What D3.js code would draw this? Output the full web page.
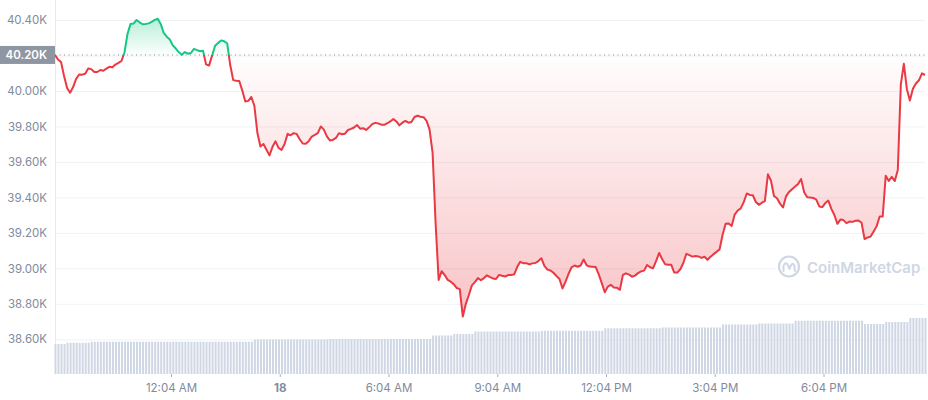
<!DOCTYPE html>
<html><head><meta charset="utf-8">
<script src="https://cdn.jsdelivr.net/npm/d3@7"></script>
<style>body{margin:0;background:#fff;} svg{display:block;font-family:Inter,"Noto Sans",sans-serif;}</style>
</head><body><svg id="chart" width="928" height="400"></svg>
<script>
// ---- data (5-minute BTC price, 24h) ----
const prices = [
40203,40177,40163,40084,40017,39990,40022,40068,40093,40092,40097,40127,40123,40107,40107,40118,40114,40126,40136,40134,
40149,40158,40169,40217,40321,40378,40380,40400,40387,40376,40378,40381,40389,40401,40407,40378,40327,40306,40290,40257,
40239,40218,40204,40219,40210,40214,40237,40230,40224,40227,40150,40143,40199,40255,40271,40285,40280,40269,40146,40061,
40058,40056,40002,39941,39944,39966,39916,39763,39687,39701,39669,39637,39685,39716,39679,39668,39701,39758,39750,39762,
39758,39728,39704,39702,39717,39743,39752,39762,39800,39782,39744,39721,39724,39735,39762,39756,39759,39780,39786,39794,
39808,39787,39790,39780,39795,39813,39820,39817,39810,39809,39818,39828,39842,39828,39806,39821,39831,39821,39825,39853,
39860,39855,39852,39831,39782,39651,39251,38935,38984,38962,38935,38925,38911,38889,38883,38728,38800,38850,38904,38922,
38945,38933,38945,38961,38951,38943,38940,38963,38958,38954,38962,38963,38966,39007,39037,39029,39029,39022,39028,39030,
39041,39057,39014,38993,38988,38975,38957,38940,38886,38925,38969,39006,39016,39009,39016,39050,39017,39010,39009,39007,
38966,38917,38865,38897,38907,38892,38891,38879,38963,38972,38965,38953,38959,38973,38983,38987,39019,39006,39001,39042,
39087,39051,39023,39020,39020,38976,38976,38995,39030,39082,39074,39066,39069,39067,39059,39065,39048,39065,39080,39093,
39107,39189,39252,39253,39239,39303,39326,39338,39373,39422,39414,39412,39374,39358,39370,39379,39530,39495,39408,39395,
39365,39343,39406,39431,39446,39461,39476,39503,39429,39401,39399,39397,39387,39349,39345,39368,39382,39335,39301,39251,
39275,39272,39255,39264,39262,39268,39270,39257,39165,39174,39179,39208,39238,39292,39292,39522,39493,39516,39492,39555,
40037,40153,40010,39946,40012,40042,40060,40099,40090
];
// 24h volume (billions USD), one bar per price point
const volumes = [
24.0,24.0,24.0,24.0,25.0,25.0,25.0,25.0,25.0,25.0,25.0,25.0,
25.8,25.8,25.8,25.8,25.8,25.8,25.8,25.8,25.8,25.8,25.8,25.8,25.8,25.8,25.8,25.8,25.8,25.8,
25.8,25.8,25.8,25.8,25.8,25.8,25.8,25.8,25.8,25.8,25.8,25.8,25.8,25.8,25.8,25.8,25.8,25.8,
25.8,25.8,25.8,25.8,25.8,25.8,25.8,25.8,25.8,25.8,25.8,25.8,25.8,25.8,25.8,25.8,25.8,25.8,
27.6,27.6,27.6,27.6,27.6,27.6,27.6,27.6,27.6,27.6,27.6,27.6,27.6,27.6,27.6,27.6,27.6,27.6,27.6,27.6,27.6,27.6,27.6,27.6,27.6,
28.0,28.0,28.0,28.0,28.0,28.0,28.0,28.0,28.0,28.0,28.0,28.0,28.0,28.0,28.0,28.0,28.0,
28.0,28.0,28.0,28.0,28.0,28.0,28.0,28.0,28.0,28.0,28.0,28.0,28.0,28.0,28.0,28.0,28.0,
30.8,30.8,30.8,30.8,30.8,30.8,30.8,32.0,32.0,32.0,32.0,32.0,32.0,32.0,
34.0,34.0,34.0,34.0,34.0,34.0,34.0,34.0,34.0,34.0,34.0,34.0,34.0,34.0,34.0,34.0,34.0,34.0,34.0,34.0,34.0,34.0,
34.6,34.6,34.6,34.6,34.6,34.6,34.6,34.6,34.6,34.6,34.6,34.6,34.6,34.6,34.6,34.6,34.6,34.6,34.6,34.6,34.6,
36.6,36.6,36.6,36.6,36.6,36.6,36.6,36.6,36.6,36.6,36.6,36.6,36.6,36.6,36.6,36.6,36.6,36.6,36.6,
37.2,37.2,37.2,37.2,37.2,37.2,37.2,37.2,37.2,37.2,37.2,37.2,37.2,37.2,37.2,37.2,37.2,37.2,37.2,37.2,
39.6,39.6,39.6,39.6,39.6,39.6,39.6,39.6,39.6,39.6,39.6,39.6,
40.4,40.4,40.4,40.4,40.4,40.4,40.4,40.4,40.4,40.4,40.4,40.4,
42.6,42.6,42.6,42.6,42.6,42.6,42.6,42.6,42.6,42.6,42.6,42.6,42.6,42.6,42.6,42.6,42.6,42.6,42.6,42.6,42.6,42.6,42.6,
40.0,40.0,40.0,40.0,40.0,40.0,40.0,
41.6,41.6,41.6,41.6,41.6,41.6,41.6,41.6,
44.8,44.8,44.8,44.8,44.8,44.8
];
const startTime = Date.UTC(2022, 2, 17, 20, 52);
const stepMinutes = 5;
const yTickValues = [38600, 38800, 39000, 39200, 39400, 39600, 39800, 40000, 40200, 40400];
const xTickTimes = ["2022-03-18T00:04:00Z","2022-03-18T03:04:00Z","2022-03-18T06:04:00Z","2022-03-18T09:04:00Z","2022-03-18T12:04:00Z","2022-03-18T15:04:00Z","2022-03-18T18:04:00Z"];
const xTickLabels = ["12:04 AM","18","6:04 AM","9:04 AM","12:04 PM","3:04 PM","6:04 PM"];
const watermarkText = "CoinMarketCap";

// ---- build ----
const data = prices.map((p, i) => ({t: new Date(startTime + i * stepMinutes * 60000), price: p, vol: volumes[i]}));
const baseline = prices[0];

const L = 55, R = 925, VB = 374;
const svg = d3.select("#chart");
const x = d3.scaleUtc().domain([data[0].t, data[data.length - 1].t]).range([L, R]);
const y = d3.scaleLinear().domain([38600, 40400]).range([339.3, 20]);
const yv = d3.scaleLinear().domain([0, 48]).range([VB, VB - 60]);
const yb = y(baseline);

const defs = svg.append("defs");
const gR = defs.append("linearGradient").attr("id", "gRed").attr("gradientUnits", "userSpaceOnUse")
  .attr("x1", 0).attr("x2", 0).attr("y1", yb).attr("y2", y(d3.min(prices)));
gR.append("stop").attr("offset", 0).attr("stop-color", "#ea3943").attr("stop-opacity", 0.01);
gR.append("stop").attr("offset", 1).attr("stop-color", "#ea3943").attr("stop-opacity", 0.3);
const gG = defs.append("linearGradient").attr("id", "gGreen").attr("gradientUnits", "userSpaceOnUse")
  .attr("x1", 0).attr("x2", 0).attr("y1", yb).attr("y2", y(d3.max(prices)));
gG.append("stop").attr("offset", 0).attr("stop-color", "#16c784").attr("stop-opacity", 0.01);
gG.append("stop").attr("offset", 1).attr("stop-color", "#16c784").attr("stop-opacity", 0.3);
defs.append("clipPath").attr("id", "cAbove").append("rect").attr("x", 0).attr("y", 0).attr("width", 928).attr("height", yb);
defs.append("clipPath").attr("id", "cBelow").append("rect").attr("x", 0).attr("y", yb).attr("width", 928).attr("height", 400 - yb);

// gridlines
const grid = svg.append("g").attr("transform", `translate(${L},0)`)
  .call(d3.axisLeft(y).tickValues(yTickValues).tickSize(-(R - L)).tickFormat(""));
grid.select(".domain").remove();
grid.selectAll("line").attr("stroke", "#eff2f5");

// left vertical line
svg.append("line").attr("x1", L + 0.5).attr("x2", L + 0.5).attr("y1", 0).attr("y2", VB).attr("stroke", "#e6e9ee");

// volume bars
svg.append("g").selectAll("rect").data(data).join("rect")
  .attr("x", d => x(d.t) - 0.5).attr("width", 2)
  .attr("y", d => yv(d.vol)).attr("height", d => VB - yv(d.vol))
  .attr("fill", "#cfd6e4");

// watermark
const wm = svg.append("g");
wm.append("rect").attr("x", 776).attr("y", 254).attr("width", 146).attr("height", 26).attr("fill", "#fff");
wm.append("circle").attr("cx", 789).attr("cy", 266.5).attr("r", 10).attr("fill", "none").attr("stroke", "#cfd6e4").attr("stroke-width", 2.2);
wm.append("path").attr("d", "M783.5,271 L783.5,266 Q786,260.5 788.3,266 L789.5,269 Q791.8,261 794.5,265.5 L794.8,271")
  .attr("fill", "none").attr("stroke", "#cfd6e4").attr("stroke-width", 2).attr("stroke-linecap", "round").attr("stroke-linejoin", "round");
wm.append("text").attr("x", 807).attr("y", 273).attr("fill", "#cfd6e4").attr("font-size", 15).attr("font-weight", 600).text(watermarkText);

// areas
const area = d3.area().x(d => x(d.t)).y0(yb).y1(d => y(d.price));
svg.append("path").datum(data).attr("d", area).attr("fill", "url(#gGreen)").attr("clip-path", "url(#cAbove)");
svg.append("path").datum(data).attr("d", area).attr("fill", "url(#gRed)").attr("clip-path", "url(#cBelow)");

// baseline dotted
svg.append("line").attr("x1", L).attr("x2", R).attr("y1", yb).attr("y2", yb)
  .attr("stroke", "#808a9d").attr("stroke-width", 1).attr("stroke-dasharray", "1,3.5");

// lines
const line = d3.line().x(d => x(d.t)).y(d => y(d.price));
svg.append("path").datum(data).attr("d", line).attr("fill", "none").attr("stroke", "#16c784").attr("stroke-width", 2)
  .attr("stroke-linejoin", "round").attr("clip-path", "url(#cAbove)");
svg.append("path").datum(data).attr("d", line).attr("fill", "none").attr("stroke", "#ea3943").attr("stroke-width", 2)
  .attr("stroke-linejoin", "round").attr("clip-path", "url(#cBelow)");

// y axis labels
const fmt = d => (d / 1000).toFixed(2) + "K";
const ya = svg.append("g").attr("transform", `translate(${L},0)`)
  .call(d3.axisLeft(y).tickValues(yTickValues.filter(v => Math.abs(v - baseline) > 50)).tickSize(0).tickPadding(8).tickFormat(fmt));
ya.select(".domain").remove();
ya.selectAll("text").attr("fill", "#808a9d").attr("font-size", 11.5).attr("font-family", "Inter");

// baseline label
svg.append("rect").attr("x", 0).attr("y", yb - 9).attr("width", L).attr("height", 18).attr("fill", "#8f96a3");
svg.append("text").attr("x", 47).attr("y", yb).attr("dy", "0.35em").attr("text-anchor", "end")
  .attr("fill", "#fff").attr("font-size", 11.5).attr("font-weight", 600).text(fmt(baseline));

// x axis
const xa = svg.append("g").attr("transform", `translate(0,${VB})`)
  .call(d3.axisBottom(x).tickValues(xTickTimes.map(s => new Date(s))).tickSize(3).tickPadding(7)
    .tickFormat((d, i) => xTickLabels[i]));
xa.select(".domain").remove();
xa.selectAll("line").attr("stroke", "#a6b0c3");
xa.selectAll("text").attr("fill", "#808a9d").attr("font-size", 11.5).attr("font-family", "Inter")
  .attr("font-weight", (d, i) => xTickLabels[i] === "18" ? 700 : 400);
</script></body></html>
